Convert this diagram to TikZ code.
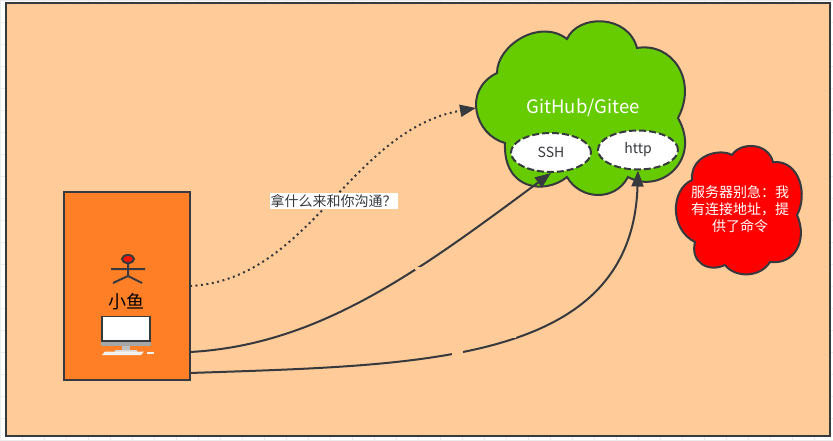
\documentclass[tikz,border=0pt]{standalone}
\usepackage{fontspec}
\setmainfont{Noto Sans CJK SC}
\usetikzlibrary{arrows.meta,shapes.geometric}
\definecolor{panelfill}{HTML}{FFCC99}
\definecolor{edgegray}{HTML}{36393D}
\definecolor{cloudgreen}{HTML}{66CC00}
\definecolor{userorange}{HTML}{FF7F27}
\tikzset{
  edgeline/.style={draw=edgegray, line width=2pt},
  flowarrow/.style={edgeline, -{Triangle[length=16pt,width=12pt]}},
  portnode/.style={ellipse, draw=edgegray, fill=white, line width=2pt, dash pattern=on 7pt off 3pt, minimum width=80pt, minimum height=39pt, inner sep=0pt, text=edgegray, font=\fontsize{14pt}{16pt}\selectfont},
}
\begin{document}
\begin{tikzpicture}[x=1pt,y=-1pt]
\useasboundingbox (0,0) rectangle (833,441);
\draw[black!8, line width=.6pt, step=22pt] (0,0) grid (833,441);
\draw[edgeline, line width=2.4pt, fill=panelfill] (6,3) rectangle (830,436);
% user box
\node[rectangle, edgeline, fill=userorange, minimum width=126pt, minimum height=188pt, inner sep=0pt] (userbox) at (127,286) {};
\draw[edgeline, fill=red!85!orange] (128,259) ellipse (6pt and 4pt);
\draw[edgeline] (128,263) -- (128,276) (111,269) -- (145,269) (113,283) -- (128,276) -- (142,283);
\node[font=\fontsize{18pt}{20pt}\selectfont, inner sep=0pt] (username) at (126,302) {小鱼};
% monitor
\draw[edgeline, line width=1.5pt, fill=white] (102,316.5) rectangle (150,341);
\fill[gray!70] (101,341.5) rectangle (151,346);
\fill[gray!50] (122,346) rectangle (130,350);
\fill[gray!30] (115,350) rectangle (137,352);
\fill[white!90!gray] (105,351.5) -- (144,351.5) -- (141,355) -- (102,355) -- cycle;
\fill[white!90!gray] (147,352) rectangle (154,354);
% clouds
\draw[edgeline, fill=cloudgreen] (497,73) .. controls (497,45) and (540,18) .. (567,39)
  .. controls (578,14) and (628,14) .. (637,48)
  .. controls (672,42) and (698,80) .. (678,118)
  .. controls (702,160) and (660,195) .. (628,177)
  .. controls (615,202) and (580,200) .. (567,177)
  .. controls (545,195) and (503,190) .. (505,143)
  .. controls (475,135) and (462,90) .. (497,73) -- cycle;
\coordinate (gitwest) at (476,108);
\node[text=white, font=\fontsize{18.5pt}{20pt}\selectfont, inner sep=0pt] (gitlabel) at (583,108) {GitHub/Gitee};
\node[portnode] (ssh) at (551,152.5) {SSH};
\node[portnode] (http) at (638,150) {http};
\draw[edgeline, fill=red] (692,180) .. controls (690,155) and (720,148) .. (732,155)
  .. controls (740,142) and (768,142) .. (773,162)
  .. controls (800,160) and (808,195) .. (797,215)
  .. controls (808,240) and (795,265) .. (770,262)
  .. controls (760,278) and (735,278) .. (725,265)
  .. controls (708,273) and (690,262) .. (695,242)
  .. controls (670,230) and (670,190) .. (692,180) -- cycle;
\node[text=white, align=center, font=\fontsize{14pt}{17pt}\selectfont, inner sep=0pt] (servernote) at (740,209) {服务器别急：我\\有连接地址，提\\供了命令};
% connectors
\coordinate (dottedstart) at (190,286);
\coordinate (sshstart) at (190,352);
\coordinate (httpstart) at (190,373);
\draw[flowarrow, dash pattern=on 2pt off 3.5pt] (dottedstart) .. controls (310,280) and (350,130) .. (gitwest);
\draw[flowarrow] (sshstart) .. controls (320,345) and (420,270) .. (ssh.south);
\draw[flowarrow] (httpstart) .. controls (420,365) and (632,365) .. (http.south);
\fill[panelfill] (415,267) rectangle (432,270);
\fill[panelfill] (452,351) rectangle (463,359);
\fill[panelfill] (512,330) rectangle (516,338);
\node[fill=white, inner xsep=1pt, inner ysep=0pt, minimum height=16pt, font=\fontsize{14pt}{16pt}\selectfont, text=edgegray] (asklabel) at (333.5,201) {拿什么来和你沟通？};
\end{tikzpicture}
\end{document}
